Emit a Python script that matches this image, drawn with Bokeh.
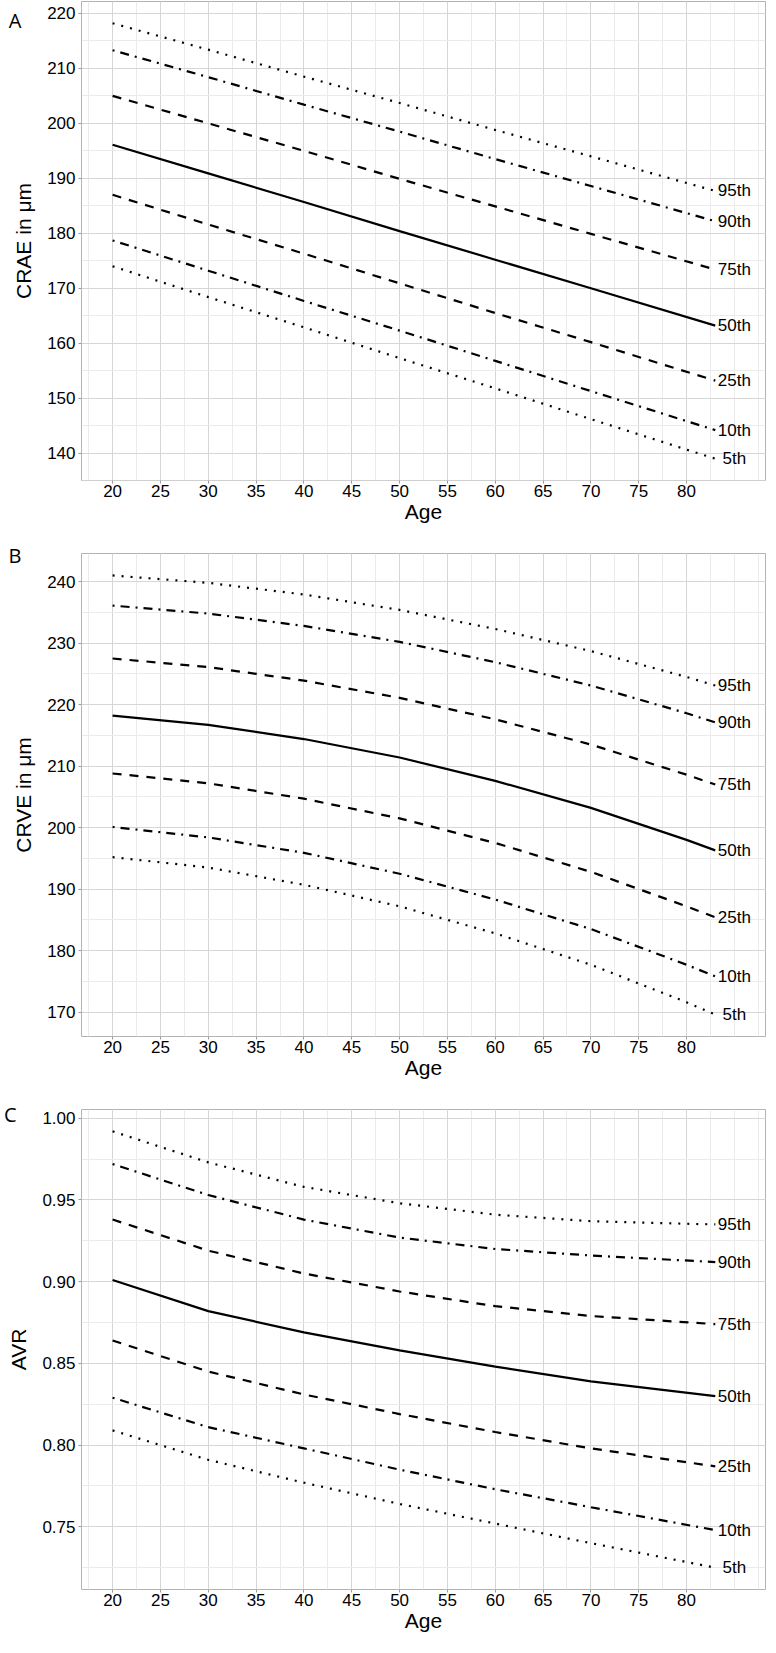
from bokeh.plotting import figure
from bokeh.layouts import column
from bokeh.models import (FixedTicker, NumeralTickFormatter, Range1d, LinearAxis,
                          CustomJSTickFormatter)
from bokeh.embed import file_html
from bokeh.resources import INLINE
from bokeh.core.properties import value

# ---------------- data ----------------
pct_labels = ["5th", "10th", "25th", "50th", "75th", "90th", "95th"]
dashes = ["2 7", "2 6 9 6", "9 8", "solid", "9 8", "2 6 9 6", "2 7"]

ages_a = [20, 30, 40, 50, 60, 70, 83]
crae_p5 = [174.0, 168.4, 162.9, 157.3, 151.8, 146.2, 139.0]
crae_p10 = [178.7, 173.2, 167.7, 162.3, 156.8, 151.3, 144.2]
crae_p25 = [187.0, 181.6, 176.3, 170.9, 165.5, 160.2, 153.2]
crae_p50 = [196.1, 190.9, 185.7, 180.4, 175.2, 170.0, 163.2]
crae_p75 = [205.0, 200.0, 195.0, 189.9, 184.9, 179.9, 173.4]
crae_p90 = [213.3, 208.4, 203.4, 198.5, 193.5, 188.6, 182.2]
crae_p95 = [218.2, 213.4, 208.5, 203.7, 198.8, 194.0, 187.7]

ages_b = [20, 30, 40, 50, 60, 70, 80, 83]
crve_p5 = [195.2, 193.5, 190.7, 187.2, 182.8, 177.7, 171.6, 169.6]
crve_p10 = [200.1, 198.4, 195.9, 192.5, 188.3, 183.5, 177.7, 175.8]
crve_p25 = [208.8, 207.2, 204.7, 201.5, 197.5, 192.8, 187.2, 185.4]
crve_p50 = [218.2, 216.7, 214.4, 211.4, 207.6, 203.2, 198.0, 196.3]
crve_p75 = [227.5, 226.1, 223.9, 221.1, 217.6, 213.5, 208.6, 207.0]
crve_p90 = [236.1, 234.8, 232.8, 230.2, 226.9, 223.1, 218.6, 217.1]
crve_p95 = [241.0, 239.8, 237.9, 235.4, 232.3, 228.7, 224.5, 223.1]

ages_c = [20, 30, 40, 50, 60, 70, 83]
avr_p5 = [0.809, 0.791, 0.777, 0.764, 0.752, 0.740, 0.725]
avr_p10 = [0.829, 0.811, 0.798, 0.785, 0.773, 0.762, 0.748]
avr_p25 = [0.864, 0.845, 0.831, 0.819, 0.808, 0.798, 0.787]
avr_p50 = [0.901, 0.882, 0.869, 0.858, 0.848, 0.839, 0.830]
avr_p75 = [0.938, 0.919, 0.905, 0.894, 0.885, 0.879, 0.874]
avr_p90 = [0.972, 0.953, 0.938, 0.927, 0.920, 0.916, 0.912]
avr_p95 = [0.992, 0.973, 0.958, 0.948, 0.941, 0.937, 0.935]

x_ticks = [20, 25, 30, 35, 40, 45, 50, 55, 60, 65, 70, 75, 80]
crae_ticks = [140, 150, 160, 170, 180, 190, 200, 210, 220]
crve_ticks = [170, 180, 190, 200, 210, 220, 230, 240]
avr_ticks = [0.75, 0.80, 0.85, 0.90, 0.95, 1.00]

LABEL_X = 85
FONT = "Liberation Sans"
FIG_W = 768
RIGHT_B = 3


def make_panel(letter, ages, series, ylab, yticks, fmt, top_b, frame_h, bot_b, letter_dy):
    lo = min(min(s) for s in series)
    hi = max(max(s) for s in series)
    pad = (hi - lo) * 0.05
    xlo, xhi = 20, LABEL_X
    xpad = (xhi - xlo) * 0.05
    y0, y1 = lo - pad, hi + pad
    p = figure(width=FIG_W, height=top_b + frame_h + bot_b, output_backend="svg",
               toolbar_location=None,
               x_range=Range1d(xlo - xpad, xhi + xpad),
               y_range=Range1d(y0, y1),
               min_border_top=top_b, min_border_bottom=bot_b,
               min_border_left=0, min_border_right=RIGHT_B)
    p.background_fill_color = "white"
    p.outline_line_color = "#b3b3b3"
    p.outline_line_width = 1

    xstep = (x_ticks[1] - x_ticks[0]) / 2
    xminor = [x_ticks[0] - xstep + xstep * i for i in range(2 * len(x_ticks) + 3)]
    ystep = (yticks[1] - yticks[0]) / 2
    yminor = [yticks[0] - ystep + ystep * i for i in range(2 * len(yticks) + 2)]
    p.xaxis.ticker = FixedTicker(ticks=x_ticks, minor_ticks=xminor)
    p.yaxis.ticker = FixedTicker(ticks=yticks, minor_ticks=yminor)
    if fmt:
        p.yaxis.formatter = NumeralTickFormatter(format=fmt)

    p.xaxis.axis_label = "Age"
    p.yaxis.axis_label = ylab
    for ax in (p.xaxis, p.yaxis):
        ax.axis_label_text_font = FONT
        ax.axis_label_text_font_style = "normal"
        ax.axis_label_text_font_size = "21px"
        ax.axis_label_text_color = "black"
        ax.major_label_text_font = FONT
        ax.major_label_text_font_size = "17px"
        ax.major_label_text_color = "black"
        ax.axis_line_color = None
        ax.major_tick_line_color = "#999999"
        ax.major_tick_out = 3
        ax.major_tick_in = 0
        ax.minor_tick_line_color = None
    p.xaxis.major_label_standoff = 0
    p.yaxis.major_label_standoff = 2
    p.xaxis.axis_label_standoff = 0
    p.yaxis.axis_label_standoff = 9

    p.grid.grid_line_color = "#d6d6d6"
    p.grid.grid_line_width = 1
    p.grid.minor_grid_line_color = "#ebebeb"
    p.grid.minor_grid_line_width = 1

    for s, d in zip(series, dashes):
        p.line(ages, s, line_color="black", line_width=2.2, line_dash=d)

    p.text(x=[LABEL_X] * len(series), y=[s[-1] for s in series], text=pct_labels,
           text_font=value(FONT), text_font_size="17px", text_color="black",
           text_align="center", text_baseline="middle")

    # panel letter: the single label of an outer, line-less left axis
    y_loc = y1 - letter_dy * (y1 - y0) / frame_h
    lax = LinearAxis(ticker=FixedTicker(ticks=[y_loc]),
                     formatter=CustomJSTickFormatter(code="return '%s';" % letter))
    lax.axis_line_color = None
    lax.major_tick_line_color = None
    lax.minor_tick_line_color = None
    lax.major_tick_out = 0
    lax.major_tick_in = 0
    lax.major_label_standoff = -12
    lax.major_label_text_font = "Open Sans"
    lax.major_label_text_font_size = "20px"
    lax.major_label_text_color = "black"
    p.add_layout(lax, "left")
    return p


pa = make_panel("A", ages_a, [crae_p5, crae_p10, crae_p25, crae_p50, crae_p75, crae_p90, crae_p95],
                "CRAE in μm", crae_ticks, None, 1, 479, 50, 6)
pb = make_panel("B", ages_b, [crve_p5, crve_p10, crve_p25, crve_p50, crve_p75, crve_p90, crve_p95],
                "CRVE in μm", crve_ticks, None, 23, 483, 50, 1.5)
pc = make_panel("C", ages_c, [avr_p5, avr_p10, avr_p25, avr_p50, avr_p75, avr_p90, avr_p95],
                "AVR", avr_ticks, "0.00", 23, 480, 48, 5)

layout = column(pa, pb, pc, spacing=0)
open("out.html", "w", encoding="utf-8").write(file_html(layout, INLINE))
